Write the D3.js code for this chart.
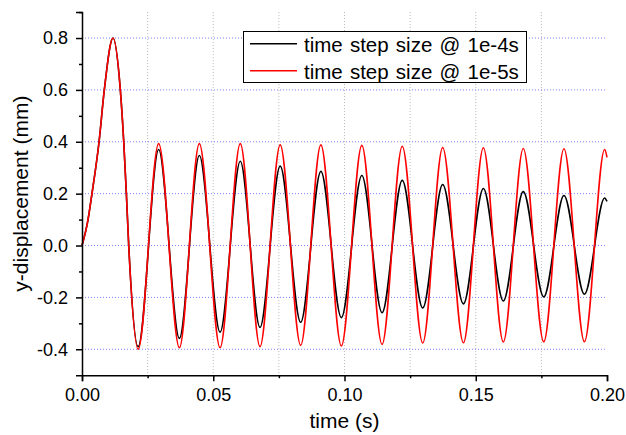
<!DOCTYPE html>
<html>
<head>
<meta charset="utf-8">
<script src="https://cdn.jsdelivr.net/npm/d3@7"></script>
<style>
  body { margin: 0; background: #fff; }
  svg { display: block; font-family: "Liberation Sans", Arial, sans-serif; }
</style>
</head>
<body>
<div id="chart"><svg></svg></div>
<script>
// time of each read point (s): start, first pulse, then every peak / trough
let times = [0, 0.0023, 0.0038, 0.0065, 0.0085, 0.0118, 0.0146, 0.0159, 0.0169, 0.0178,
  0.0214, 0.0292, 0.0371, 0.0447, 0.0526, 0.0603, 0.0678, 0.0755, 0.0833, 0.0910,
  0.0988, 0.1066, 0.1143, 0.1220, 0.1298, 0.1374, 0.1453, 0.1529, 0.1605, 0.1681,
  0.1759, 0.1836, 0.1914, 0.1991, 0.2000];

// time step 1e-4s (black)
let coarse = [0, 0.1, 0.2, 0.4, 0.6, 0.8, 0.6, 0.4, 0.2, 0,
  -0.390, 0.370, -0.358, 0.347, -0.334, 0.325, -0.316, 0.306, -0.296, 0.286,
  -0.278, 0.270, -0.259, 0.251, -0.241, 0.235, -0.225, 0.220, -0.214, 0.208,
  -0.198, 0.193, -0.188, 0.183, 0.170];

// time step 1e-5s (red)
let fine = [0, 0.1, 0.2, 0.4, 0.6, 0.8, 0.6, 0.4, 0.2, 0,
  -0.400, 0.393, -0.394, 0.393, -0.394, 0.393, -0.390, 0.388, -0.385, 0.388,
  -0.387, 0.386, -0.381, 0.383, -0.376, 0.378, -0.375, 0.377, -0.372, 0.374,
  -0.371, 0.373, -0.371, 0.370, 0.340];

let seriesNames = ["time step size @ 1e-4s", "time step size @ 1e-5s"];
let seriesColors = ["#000000", "#ff0000"];

let xMajor = [0, 0.05, 0.10, 0.15, 0.20];
let xMinor = [0.025, 0.075, 0.125, 0.175];
let yMajor = [-0.4, -0.2, 0.0, 0.2, 0.4, 0.6, 0.8];
let yMinor = [-0.3, -0.1, 0.1, 0.3, 0.5, 0.7, 0.9];

let width = 626;
let height = 435;
let svg = d3.select("#chart svg").attr("width", width).attr("height", height);

let x = d3.scaleLinear().domain([0, 0.2]).range([82, 607]);
let y = d3.scaleLinear().domain([-0.5, 0.9]).range([375.2, 12.1]);

// grid lines: gray dotted verticals, blue dotted horizontals
svg.append("g")
  .selectAll("line")
  .data(xMajor.concat(xMinor).filter(d => d > 0 && d < 0.2))
  .enter().append("line")
  .attr("x1", d => x(d)).attr("x2", d => x(d))
  .attr("y1", y(0.9)).attr("y2", y(-0.5))
  .attr("stroke", "#b8b8b8")
  .attr("stroke-width", 1)
  .attr("stroke-dasharray", "1,2");

svg.append("g")
  .selectAll("line")
  .data(yMajor)
  .enter().append("line")
  .attr("x1", x(0)).attr("x2", x(0.2))
  .attr("y1", d => y(d)).attr("y2", d => y(d))
  .attr("stroke", "#7f7fff")
  .attr("stroke-width", 1)
  .attr("stroke-dasharray", "1,2");

// curves
let line = d3.line()
  .x((d, i) => x(times[i]))
  .y(d => y(d))
  .curve(d3.curveMonotoneX);

[coarse, fine].forEach((vals, k) => {
  svg.append("path")
    .datum(vals)
    .attr("d", line)
    .attr("fill", "none")
    .attr("stroke", seriesColors[k])
    .attr("stroke-width", 1.6);
});

// axes
let axisStyle = g => {
  g.select(".domain").attr("stroke-width", 1.5);
  g.selectAll(".tick line").attr("stroke-width", 1.5);
  g.selectAll("text").attr("font-size", 18).attr("fill", "#000");
};

svg.append("g")
  .attr("transform", `translate(0,${y(-0.5)})`)
  .call(d3.axisBottom(x).tickValues(xMinor).tickSize(3).tickFormat(""))
  .call(g => g.select(".domain").remove())
  .call(axisStyle);

svg.append("g")
  .attr("transform", `translate(0,${y(-0.5)})`)
  .call(d3.axisBottom(x).tickValues(xMajor).tickSizeOuter(0).tickSize(6).tickPadding(7.5)
    .tickFormat(d => d.toFixed(2)))
  .call(axisStyle);

svg.append("g")
  .attr("transform", `translate(${x(0)},0)`)
  .call(d3.axisLeft(y).tickValues(yMinor).tickSize(3).tickFormat(""))
  .call(g => g.select(".domain").remove())
  .call(axisStyle);

// plain hyphen for negatives, like the original
svg.append("g")
  .attr("transform", `translate(${x(0)},0)`)
  .call(d3.axisLeft(y).tickValues(yMajor).tickSizeOuter(0).tickSize(6).tickPadding(8)
    .tickFormat(d => d.toFixed(1)))
  .call(axisStyle);

// axis titles
svg.append("text")
  .attr("x", (x(0) + x(0.2)) / 2)
  .attr("y", 428)
  .attr("text-anchor", "middle")
  .attr("font-size", 21)
  .text("time (s)");

svg.append("text")
  .attr("transform", `translate(28,${(y(0.9) + y(-0.5)) / 2}) rotate(-90)`)
  .attr("text-anchor", "middle")
  .attr("font-size", 21)
  .text("y-displacement (mm)");

// legend
let legend = svg.append("g");
legend.append("rect")
  .attr("x", 243.5).attr("y", 31.5)
  .attr("width", 283).attr("height", 51)
  .attr("fill", "#fff")
  .attr("stroke", "#000")
  .attr("stroke-width", 1);

seriesNames.forEach((name, k) => {
  let ly = 43.7 + k * 27;
  legend.append("line")
    .attr("x1", 250).attr("x2", 297)
    .attr("y1", ly).attr("y2", ly)
    .attr("stroke", seriesColors[k])
    .attr("stroke-width", 1.6);
  legend.append("text")
    .attr("x", 304)
    .attr("y", ly + 8.5)
    .attr("font-size", 20.5)
    .attr("word-spacing", 1.5)
    .text(name);
});
</script>
</body>
</html>
